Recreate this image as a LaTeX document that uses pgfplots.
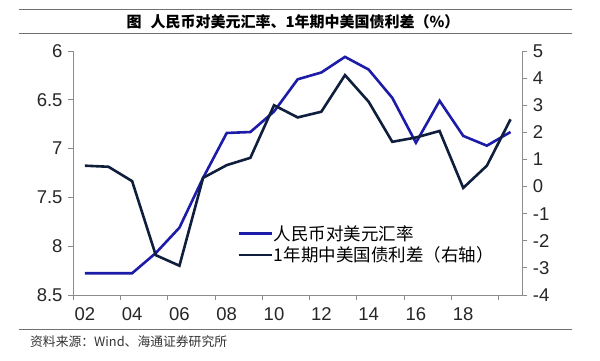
\documentclass[border=0pt]{standalone}
\usepackage{pgfplots}
\pgfplotsset{compat=1.18}
\usepackage{fontspec}
\setmainfont{Liberation Sans}
\newfontfamily\cjk{Noto Sans CJK SC}
\definecolor{rmbblue}{HTML}{1C1CA8}
\definecolor{navy}{HTML}{0F1E3C}
\definecolor{axgray}{HTML}{8C8C8C}
\definecolor{rulegray}{HTML}{707070}

\pgfplotstableread{
year rate
2002 8.277
2003 8.277
2004 8.277
2005 8.07
2006 7.81
2007 7.30
2008 6.84
2009 6.83
2010 6.62
2011 6.29
2012 6.22
2013 6.06
2014 6.19
2015 6.48
2016 6.94
2017 6.51
2018 6.87
2019 6.97
2020 6.83
}\ratetable

\pgfplotstableread{
year spread
2002 0.77
2003 0.73
2004 0.20
2005 -2.53
2006 -2.92
2007 0.32
2008 0.79
2009 1.06
2010 3.00
2011 2.55
2012 2.76
2013 4.11
2014 3.13
2015 1.65
2016 1.81
2017 2.05
2018 -0.05
2019 0.77
2020 2.48
}\spreadtable

\begin{document}
\begin{tikzpicture}[x=1bp,y=1bp]
\useasboundingbox (0,0) rectangle (600,360);
% title
\draw[rulegray,line width=0.9bp] (19,351) -- (572,351);
\draw[rulegray,line width=0.9bp] (19,327) -- (572,327);
\node[font=\cjk\bfseries\fontsize{15bp}{17bp}\selectfont] at (293,338.5) {图\hspace{0.6em}人民币对美元汇率、1年期中美国债利差（\%）};
% bottom rule and source
\draw[rulegray,line width=0.9bp] (19,31) -- (572,31);
\node[anchor=west,font=\cjk\fontsize{12.8bp}{14bp}\selectfont,text=black!80,inner sep=0] at (30,18) {资料来源：Wind、海通证券研究所};

\pgfplotsset{
  every axis/.append style={
    scale only axis,
    width=449.35bp, height=244bp,
    at={(73bp,65bp)}, anchor=south west,
    xmin=2001.5, xmax=2020.5,
    tick align=outside,
    major tick length=5bp,
    axis line style={draw=axgray, line width=0.8bp},
    tick style={draw=axgray, line width=0.8bp},
    tick label style={font=\fontsize{18.5bp}{20bp}\selectfont, text=black!85},
    /pgf/number format/assume math mode=true,
  }
}

\begin{axis}[
  axis lines*=left,
  y dir=reverse,
  ymin=6, ymax=8.5,
  ytick={6,6.5,7,7.5,8,8.5},
  xtick={2001.5,2003.5,2005.5,2007.5,2009.5,2011.5,2013.5,2015.5,2017.5,2019.5},
  xticklabels={02,04,06,08,10,12,14,16,18,{}},
  xticklabel style={xshift=11.8bp, yshift=-4bp},
  yticklabel style={xshift=-2bp},
  legend style={at={(0.365,0.207)}, anchor=west, draw=none, fill=none,
    inner sep=0pt, row sep=3bp,
    font=\cjk\fontsize{17.5bp}{20bp}\selectfont,
    nodes={inner xsep=1bp, inner ysep=1bp}},
  legend cell align=left,
  legend image code/.code={\draw[#1] (0bp,0bp) -- (33bp,0bp);},
]
\addplot[rmbblue, line width=2.6bp] table[x=year,y=rate] {\ratetable};
\addlegendentry{人民币对美元汇率}
\addlegendimage{navy, line width=2.6bp}
\addlegendentry{1年期中美国债利差（右轴）}
\end{axis}

\begin{axis}[
  axis y line*=right,
  axis x line=none,
  ymin=-4, ymax=5,
  ytick={-4,-3,-2,-1,0,1,2,3,4,5},
  yticklabel style={xshift=2bp},
]
\addplot[navy, line width=2.6bp] table[x=year,y=spread] {\spreadtable};
\end{axis}
\end{tikzpicture}
\end{document}
